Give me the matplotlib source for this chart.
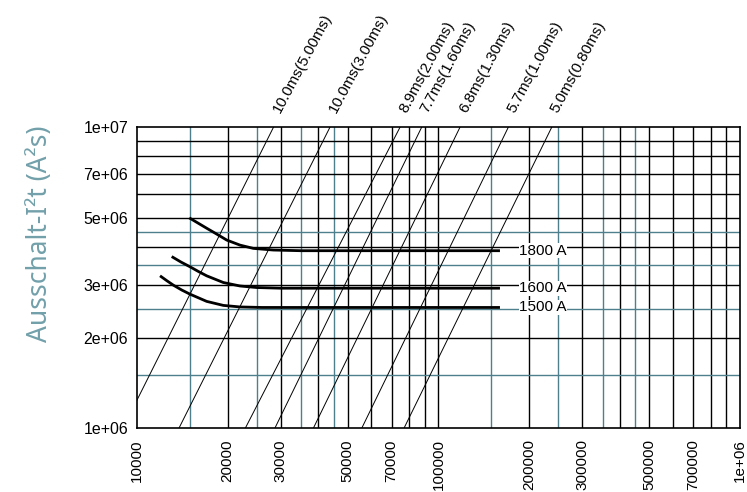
import matplotlib
matplotlib.use("Agg")
import matplotlib.pyplot as plt
from matplotlib.ticker import FixedLocator, FixedFormatter, NullLocator

plt.rcParams['font.family'] = ['Liberation Sans', 'DejaVu Sans']

# ---- achsen / ticks ----
x_ticks = [1e4, 2e4, 3e4, 5e4, 7e4, 1e5, 2e5, 3e5, 5e5, 7e5, 1e6]
x_tick_labels = ["10000", "20000", "30000", "50000", "70000", "100000",
                 "200000", "300000", "500000", "700000", "1e+06"]
y_ticks = [1e6, 2e6, 3e6, 5e6, 7e6, 1e7]
y_tick_labels = ["1e+06", "2e+06", "3e+06", "5e+06", "7e+06", "1e+07"]

# ---- gitter ----
grid_black_x = [2e4, 3e4, 4e4, 5e4, 6e4, 7e4, 8e4, 9e4, 1e5,
                2e5, 3e5, 4e5, 5e5, 6e5, 7e5, 8e5, 9e5]
grid_teal_x = [1.5e4, 2.5e4, 3.5e4, 4.5e4, 1.5e5, 2.5e5, 3.5e5, 4.5e5]
grid_black_y = [2e6, 3e6, 4e6, 5e6, 6e6, 7e6, 8e6, 9e6]
grid_teal_y = [1.5e6, 2.5e6, 3.5e6, 4.5e6]

# ---- schmelzkurven ----
curve_names = ["1800 A", "1600 A", "1500 A"]
curve_1800_x = [14940, 16000, 17060, 18400, 19880, 22000, 24350, 28370, 35000, 160000]
curve_1800_y = [5.0e6, 4.8e6, 4.62e6, 4.42e6, 4.22e6, 4.06e6, 3.96e6, 3.91e6, 3.89e6, 3.89e6]
curve_1600_x = [13060, 14000, 15020, 16000, 17060, 19370, 22000, 25000, 30000, 160000]
curve_1600_y = [3.72e6, 3.57e6, 3.44e6, 3.32e6, 3.21e6, 3.05e6, 2.97e6, 2.935e6, 2.92e6, 2.92e6]
curve_1500_x = [11950, 12600, 13220, 14100, 15020, 17060, 19370, 22000, 26000, 160000]
curve_1500_y = [3.21e6, 3.09e6, 2.99e6, 2.88e6, 2.79e6, 2.64e6, 2.56e6, 2.53e6, 2.52e6, 2.52e6]
curve_label_x = 185000

# ---- diagonalen (x bei y=1e6 und bei y=1e7) ----
diag_labels = ["10.0ms(5.00ms)", "10.0ms(3.00ms)", "8.9ms(2.00ms)", "7.7ms(1.60ms)",
               "6.8ms(1.30ms)", "5.7ms(1.00ms)", "5.0ms(0.80ms)"]
diag_x_bottom = [9000, 13800, 22900, 28700, 38500, 55700, 76900]
diag_x_top = [28400, 43700, 74600, 88000, 117900, 170500, 237500]

TEAL = "#4d808c"

fig = plt.figure(figsize=(7.47, 4.92), dpi=100)
ax = fig.add_axes([0.183, 0.1295, 0.8077, 0.6118])
ax.set_xscale("log")
ax.set_yscale("log")
ax.set_xlim(1e4, 1e6)
ax.set_ylim(1e6, 1e7)

for v in grid_black_x:
    ax.axvline(v, color="black", lw=1.0, zorder=1)
for v in grid_teal_x:
    ax.axvline(v, color=TEAL, lw=1.0, zorder=1)
for v in grid_black_y:
    ax.axhline(v, color="black", lw=1.0, zorder=1)
for v in grid_teal_y:
    ax.axhline(v, color=TEAL, lw=1.0, zorder=1)

# diagonalen
for lab, xb, xt in zip(diag_labels, diag_x_bottom, diag_x_top):
    ax.plot([xb, xt], [1e6, 1e7], color="black", lw=0.7, zorder=2)
    ax.annotate(lab, xy=(xt, 1e7), xytext=(9, 12), textcoords="offset pixels",
                rotation=62, rotation_mode="anchor", ha="left", va="bottom",
                fontsize=11, annotation_clip=False)

# kurven
curves = [(curve_1800_x, curve_1800_y), (curve_1600_x, curve_1600_y),
          (curve_1500_x, curve_1500_y)]
for name, (cx, cy) in zip(curve_names, curves):
    ax.plot(cx, cy, color="black", lw=2.0, zorder=3, solid_capstyle="butt")
    ax.text(curve_label_x, cy[-1], name, fontsize=11, ha="left", va="center",
            zorder=4, bbox=dict(facecolor="white", edgecolor="none", pad=0.2))

ax.xaxis.set_major_locator(FixedLocator(x_ticks))
ax.xaxis.set_major_formatter(FixedFormatter(x_tick_labels))
ax.xaxis.set_minor_locator(NullLocator())
ax.yaxis.set_major_locator(FixedLocator(y_ticks))
ax.yaxis.set_major_formatter(FixedFormatter(y_tick_labels))
ax.yaxis.set_minor_locator(NullLocator())
ax.tick_params(axis="x", length=0, pad=8, labelsize=11, labelrotation=90)
ax.tick_params(axis="y", length=0, pad=6, labelsize=11.5)
for s in ax.spines.values():
    s.set_linewidth(1.2)
    s.set_zorder(5)

fig.text(40 / 747, 1 - 234 / 492, "Ausschalt-I²t (A²s)", rotation=90,
         ha="center", va="center", color="#72a0aa", fontsize=19,
         family=["Noto Sans", "DejaVu Sans"], fontweight="light")

fig.savefig("out.png", dpi=100)
